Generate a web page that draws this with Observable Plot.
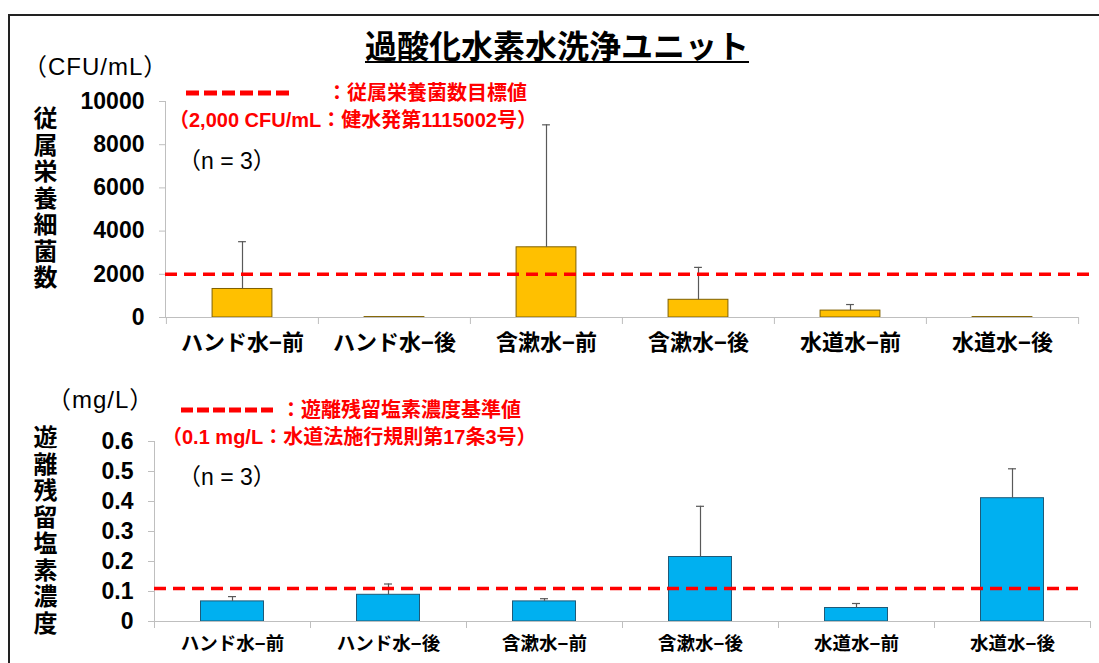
<!DOCTYPE html>
<html>
<head>
<meta charset="utf-8">
<script src="https://cdn.jsdelivr.net/npm/d3@7"></script>
<script src="https://cdn.jsdelivr.net/npm/@observablehq/plot@0.6"></script>
<style>
  html, body { margin: 0; padding: 0; background: #fff; }
  #wrap { position: relative; width: 1099px; height: 663px; overflow: hidden;
          font-family: "Liberation Sans", "Noto Sans CJK JP", sans-serif; color: #000; }
  .abs { position: absolute; white-space: nowrap; line-height: 1; }
  .vmid { transform: translateY(-50%); }
  .frame { position: absolute; left: 8px; top: 14px; width: 1200px; height: 800px;
           border: 2px solid #222; }
  .title { left: 557px; top: 47px; transform: translate(-50%, -50%); font-size: 32px; font-weight: bold;
           text-decoration: underline; text-decoration-thickness: 2px; text-underline-offset: 3px; }
  .unit { font-size: 24px; letter-spacing: 1px; }
  .vlabel { writing-mode: vertical-rl; text-orientation: upright; font-weight: bold; font-size: 24px; letter-spacing: 2.5px; }
  .red { color: #ff0000; font-weight: bold; font-size: 20px; }
  .dash { position: absolute; height: 5px; transform: translateY(-50%); }
  .n { font-size: 23px; }
  .plot { position: absolute; left: 0; }
</style>
</head>
<body>
<div id="wrap">
  <div class="frame"></div>
  <div class="abs title">過酸化水素水洗浄ユニット</div>

  <div class="abs vmid unit" style="left:23px; top:67px;">（CFU/mL）</div>
  <div class="abs vlabel" style="left:31px; top:106px;">従属栄養細菌数</div>
  <div class="dash" id="legDash1" style="left:186px; top:93px; width:106px;"></div>
  <div class="abs vmid red" style="left:327px; top:93px;">：従属栄養菌数目標値</div>
  <div class="abs vmid red" style="left:169px; top:120px;">（2,000 CFU/mL：健水発第1115002号）</div>
  <div class="abs vmid n" style="left:178px; top:161px;">（n = 3）</div>

  <div class="abs vmid unit" style="left:47px; top:400px;">（mg/L）</div>
  <div class="abs vlabel" style="left:31px; top:425px;">遊離残留塩素濃度</div>
  <div class="dash" id="legDash2" style="left:181px; top:410px; width:92px;"></div>
  <div class="abs vmid red" style="left:281px; top:410px;">：遊離残留塩素濃度基準値</div>
  <div class="abs vmid red" style="left:162px; top:437px;">（0.1 mg/L：水道法施行規則第17条3号）</div>
  <div class="abs vmid n" style="left:178px; top:477px;">（n = 3）</div>

  <div class="plot" id="top" style="top:90px;"></div>
  <div class="plot" id="bottom" style="top:430px;"></div>
</div>
<script>
// ---- data ----
const categories = ["ハンド水−前", "ハンド水−後", "含漱水−前", "含漱水−後", "水道水−前", "水道水−後"];
const bacteriaMean = [1320, 20, 3250, 820, 320, 20];
const bacteriaSD = [2190, 0, 5670, 1500, 280, 0];
const bacteriaTarget = 2000;
const bacteriaTicks = [0, 2000, 4000, 6000, 8000, 10000];

const chlorineMean = [0.067, 0.089, 0.067, 0.215, 0.045, 0.411];
const chlorineSD = [0.016, 0.036, 0.009, 0.169, 0.015, 0.098];
const chlorineStandard = 0.11;
const chlorineTicks = [0, 0.1, 0.2, 0.3, 0.4, 0.5, 0.6];

const RED = "#ff0000";
document.getElementById("legDash1").style.background =
  `repeating-linear-gradient(90deg, ${RED} 0 13px, transparent 13px 18px)`;
document.getElementById("legDash2").style.background =
  `repeating-linear-gradient(90deg, ${RED} 0 12px, transparent 12px 16px)`;

const FONT = '"Liberation Sans", "Noto Sans CJK JP", sans-serif';

function makeChart({means, sds, ticks, tickFormat, yMax, threshold, fill, outline,
                    marginLeft, marginRight, marginTop, marginBottom, height,
                    barWidth, labelSize, labelPad, dashInsetRight}) {
  const width = 1099;
  const bw = (width - marginLeft - marginRight) / categories.length;
  const rows = categories.map((c, i) => ({cat: c, v: means[i], hi: means[i] + sds[i], sd: sds[i]}));
  const errRows = rows.filter(d => d.sd > 0);
  const inset = (bw - barWidth) / 2;
  const capInset = (bw - 8) / 2;
  return Plot.plot({
    width, height, marginLeft, marginRight, marginTop, marginBottom,
    style: {fontFamily: FONT, background: "transparent", color: "#000", overflow: "visible"},
    x: {domain: categories, padding: 0, axis: null},
    y: {domain: [0, yMax], axis: null},
    marks: [
      Plot.frame({anchor: "left", stroke: "#bfbfbf"}),
      Plot.axisY({ticks, tickFormat, tickSize: 6, tickPadding: 15, stroke: "#bfbfbf",
                  fill: "#000", fontSize: 23, fontWeight: "bold", label: null}),
      Plot.barY(rows, {x: "cat", y: "v", fill, stroke: outline, strokeWidth: 1,
                       insetLeft: inset, insetRight: inset}),
      Plot.ruleX(errRows, {x: "cat", y1: "v", y2: "hi", stroke: "#595959", strokeWidth: 1.2}),
      Plot.tickY(errRows, {x: "cat", y: "hi", stroke: "#595959", strokeWidth: 1.2,
                           insetLeft: capInset, insetRight: capInset}),
      Plot.ruleY([0], {stroke: "#bfbfbf", strokeWidth: 1.2}),
      Plot.axisX(categories, {tickSize: 7, stroke: "#bfbfbf", fill: "none", dx: -bw / 2, label: null}),
      Plot.axisX([categories[categories.length - 1]], {tickSize: 7, stroke: "#bfbfbf", fill: "none", dx: bw / 2, label: null}),
      Plot.axisX({tickSize: 0, tickPadding: labelPad, fontSize: labelSize, fontWeight: "bold",
                  fill: "#000", label: null}),
      Plot.ruleY([threshold], {stroke: RED, strokeWidth: 3.5, strokeDasharray: "12,7",
                               insetRight: dashInsetRight})
    ]
  });
}

document.getElementById("top").append(makeChart({
  means: bacteriaMean, sds: bacteriaSD, ticks: bacteriaTicks, tickFormat: d => String(d),
  yMax: 10000, threshold: bacteriaTarget, fill: "#ffc000", outline: "#7f6000",
  marginLeft: 165, marginRight: 21, marginTop: 11, marginBottom: 40, height: 267,
  barWidth: 60, labelSize: 22, labelPad: 17, dashInsetRight: -17
}));

document.getElementById("bottom").append(makeChart({
  means: chlorineMean, sds: chlorineSD, ticks: chlorineTicks, tickFormat: d => String(+d.toFixed(1)),
  yMax: 0.6, threshold: chlorineStandard, fill: "#00b0f0", outline: "#1f5a78",
  marginLeft: 154, marginRight: 9, marginTop: 11, marginBottom: 42, height: 233,
  barWidth: 63, labelSize: 18.5, labelPad: 15, dashInsetRight: 8
}));
</script>
</body>
</html>
